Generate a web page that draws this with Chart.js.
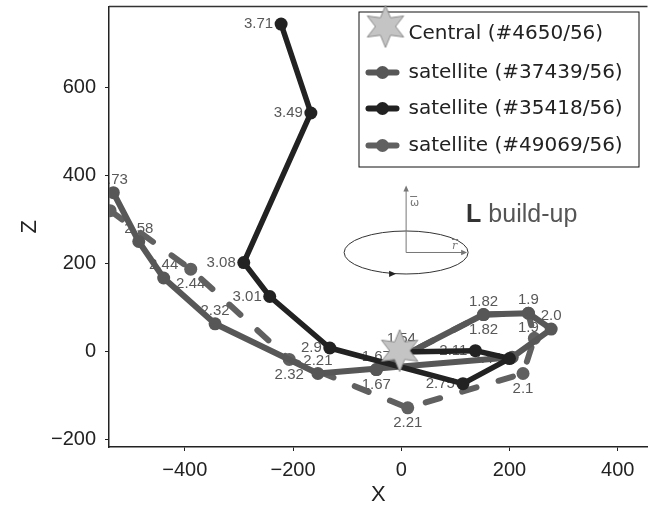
<!DOCTYPE html>
<html>
<head>
<meta charset="utf-8">
<script src="https://cdn.jsdelivr.net/npm/chart.js@4.4.1/dist/chart.umd.min.js"></script>
<style>
  html, body { margin: 0; padding: 0; background: #fff; }
</style>
</head>
<body>
<canvas id="orbitChart" width="654" height="511"></canvas>
<script>
// positions in the X-Z plane, with the redshift written next to each point
const centralX = [-3];
const centralY = [3];

const sat37439X = [-532, -485, -439, -344, -154, 205, 277, 235, 152, -46, 0];
const sat37439Y = [362, 251, 168, 64, -49, -12, 52, 88, 85, -40, 0];
const sat37439Z = ['2.73', '2.58', '2.44', '2.32', '2.21', '', '2.0', '1.9', '1.82', '1.67', '1.54'];

const sat35418X = [-222, -167, -291, -243, -132, 114, 200, 137, 0];
const sat35418Y = [745, 543, 203, 126, 9, -72, -15, 3, 0];
const sat35418Z = ['3.71', '3.49', '3.08', '3.01', '2.9', '2.75', '2.44', '2.11', ''];

const sat49069X = [-538, -389, -207, 12, 225, 246, 235, 152, -46];
const sat49069Y = [321, 188, -17, -127, -49, 31, 88, 85, -40];
const sat49069Z = ['', '2.44', '2.32', '2.21', '2.1', '', '1.9', '1.82', '1.67'];

const xTicks = [-400, -200, 0, 200, 400];
const yTicks = [-200, 0, 200, 400, 600];

const insetAt = { x: 9, y: 226 };

const pts = (xs, ys) => xs.map((v, i) => ({ x: v, y: ys[i] }));
const minus = v => String(v).replace('-', '\u2212');

function makeStar(r) {
    const s = Math.ceil(r * 2 + 4);
    const c = document.createElement('canvas');
    c.width = s; c.height = s;
    const g = c.getContext('2d');
    g.translate(s / 2, s / 2);
    g.beginPath();
    for (let i = 0; i < 12; i++) {
        const rad = i % 2 ? r * 0.48 : r;
        const a = -Math.PI / 2 + i * Math.PI / 6;
        if (i === 0) g.moveTo(rad * Math.cos(a), rad * Math.sin(a));
        else g.lineTo(rad * Math.cos(a), rad * Math.sin(a));
    }
    g.closePath();
    g.fillStyle = '#c4c4c4';
    g.fill();
    g.strokeStyle = '#8a8a8a';
    g.lineWidth = 1;
    g.stroke();
    return c;
}
const starImg = makeStar(21);

// redshift labels, under the lines like in the original
const pointLabels = {
    id: 'pointLabels',
    beforeDatasetsDraw(chart) {
        const { ctx, chartArea: a, scales: { x, y } } = chart;
        ctx.save();
        ctx.beginPath();
        ctx.rect(a.left, a.top, a.right - a.left, a.bottom - a.top);
        ctx.clip();
        ctx.font = '15px "Liberation Sans", Arial, sans-serif';
        ctx.fillStyle = '#585858';
        ctx.textBaseline = 'middle';
        chart.data.datasets.forEach(ds => {
            if (!ds.tags) return;
            ds.data.forEach((p, i) => {
                const t = ds.tags[i];
                if (!t) return;
                const px = x.getPixelForValue(p.x);
                const py = y.getPixelForValue(p.y);
                if (ds.tagPos === 'left') {
                    ctx.textAlign = 'right';
                    ctx.fillText(t, px - 8, py);
                } else if (ds.tagPos === 'above') {
                    ctx.textAlign = 'center';
                    ctx.fillText(t, px, py - 13);
                } else {
                    ctx.textAlign = 'center';
                    ctx.fillText(t, px, py + 15);
                }
            });
        });
        ctx.restore();
    }
};

function arrowHead(ctx, x, y, ang, size) {
    ctx.save();
    ctx.translate(x, y);
    ctx.rotate(ang);
    ctx.beginPath();
    ctx.moveTo(0, 0);
    ctx.lineTo(-size, -size * 0.45);
    ctx.lineTo(-size, size * 0.45);
    ctx.closePath();
    ctx.fill();
    ctx.restore();
}

// small "L build-up" sketch
const lBuildUp = {
    id: 'lBuildUp',
    beforeDatasetsDraw(chart) {
        const { ctx, scales: { x, y } } = chart;
        const cx = x.getPixelForValue(insetAt.x);
        const cy = y.getPixelForValue(insetAt.y);
        ctx.save();
        ctx.strokeStyle = '#333';
        ctx.lineWidth = 1;
        ctx.beginPath();
        ctx.ellipse(cx, cy, 62, 21.5, 0, 0, Math.PI * 2);
        ctx.stroke();
        ctx.fillStyle = '#222';
        arrowHead(ctx, cx - 10, cy + 21.3, 0, 7);

        ctx.strokeStyle = '#777';
        ctx.fillStyle = '#777';
        ctx.beginPath();
        ctx.moveTo(cx, cy);
        ctx.lineTo(cx, cy - 64);
        ctx.moveTo(cx, cy);
        ctx.lineTo(cx + 58, cy);
        ctx.stroke();
        arrowHead(ctx, cx, cy - 67, -Math.PI / 2, 6);
        arrowHead(ctx, cx + 61, cy, 0, 6);

        ctx.font = '11px "DejaVu Sans", sans-serif';
        ctx.textAlign = 'left';
        ctx.textBaseline = 'alphabetic';
        ctx.fillText('\u03c9', cx + 4, cy - 46);
        ctx.font = 'italic 11px "DejaVu Serif", serif';
        ctx.fillText('r', cx + 46, cy - 3);
        ctx.beginPath();
        ctx.moveTo(cx + 4, cy - 56); ctx.lineTo(cx + 11, cy - 56);
        ctx.moveTo(cx + 46, cy - 13); ctx.lineTo(cx + 52, cy - 13);
        ctx.stroke();

        ctx.font = 'bold 25px "Liberation Sans", Arial, sans-serif';
        ctx.fillStyle = '#333';
        ctx.fillText('L', cx + 60, cy - 30);
        const w = ctx.measureText('L').width;
        ctx.font = '25px "Liberation Sans", Arial, sans-serif';
        ctx.fillStyle = '#555';
        ctx.fillText(' build-up', cx + 60 + w, cy - 30);
        ctx.restore();
    }
};

const topSpine = {
    id: 'topSpine',
    afterDraw(chart) {
        const { ctx, chartArea: a } = chart;
        ctx.save();
        ctx.strokeStyle = '#333';
        ctx.lineWidth = 1.5;
        ctx.beginPath();
        ctx.moveTo(a.left, a.top);
        ctx.lineTo(a.right, a.top);
        ctx.stroke();
        ctx.restore();
    }
};

const orbitLegend = {
    id: 'orbitLegend',
    afterDraw(chart) {
        const { ctx, chartArea: a } = chart;
        const x0 = a.right - 289, y0 = a.top + 5;
        const rows = [22, 61, 97, 134];
        ctx.save();
        ctx.fillStyle = '#fff';
        ctx.fillRect(x0, y0, 280, 155);
        ctx.strokeStyle = '#111';
        ctx.lineWidth = 1;
        ctx.strokeRect(x0 + 0.5, y0 + 0.5, 280, 155);
        ctx.font = '20px "DejaVu Sans", sans-serif';
        ctx.textBaseline = 'middle';
        ctx.textAlign = 'left';
        chart.data.datasets.forEach((ds, i) => {
            const ry = y0 + rows[i];
            if (ds.pointStyle instanceof HTMLCanvasElement) {
                const img = ds.pointStyle;
                ctx.drawImage(img, x0 + 27 - img.width / 2, y0 + 15 - img.height / 2);
            } else {
                ctx.strokeStyle = ds.borderColor;
                ctx.fillStyle = ds.borderColor;
                ctx.lineWidth = 6;
                ctx.lineCap = 'round';
                ctx.beginPath();
                ctx.moveTo(x0 + 10, ry);
                ctx.lineTo(x0 + 38, ry);
                ctx.stroke();
                ctx.beginPath();
                ctx.arc(x0 + 24, ry, 6.5, 0, Math.PI * 2);
                ctx.fill();
            }
            ctx.fillStyle = '#222';
            ctx.fillText(ds.label, x0 + 50, ry);
        });
        ctx.restore();
    }
};

(() => {
    'use strict'
    const chart = document.querySelector('#orbitChart') ?? '';
    if (chart == '') return false;

    const tickFont = { family: '"Liberation Sans", Arial, sans-serif', size: 20 };
    const titleFont = { family: '"Liberation Sans", Arial, sans-serif', size: 22 };

    new Chart(chart, {
        type: 'scatter',
        data: {
            datasets: [{
                label: 'Central (#4650/56)',
                data: pts(centralX, centralY),
                pointStyle: starImg,
                showLine: false,
                order: 0
            }, {
                label: 'satellite (#37439/56)',
                data: pts(sat37439X, sat37439Y),
                tags: sat37439Z,
                tagPos: 'above',
                showLine: true,
                borderColor: '#575757',
                backgroundColor: '#575757',
                borderWidth: 6,
                borderJoinStyle: 'round',
                pointRadius: 6.5,
                pointBorderWidth: 0,
                order: 2
            }, {
                label: 'satellite (#35418/56)',
                data: pts(sat35418X, sat35418Y),
                tags: sat35418Z,
                tagPos: 'left',
                showLine: true,
                borderColor: '#222',
                backgroundColor: '#222',
                borderWidth: 5.5,
                borderJoinStyle: 'round',
                pointRadius: 6.5,
                pointBorderWidth: 0,
                order: 1
            }, {
                label: 'satellite (#49069/56)',
                data: pts(sat49069X, sat49069Y),
                tags: sat49069Z,
                tagPos: 'below',
                showLine: true,
                borderColor: '#606060',
                backgroundColor: '#606060',
                borderWidth: 6,
                borderDash: [15, 23],
                borderCapStyle: 'round',
                borderJoinStyle: 'round',
                pointRadius: 6.5,
                pointBorderWidth: 0,
                order: 3
            }]
        },
        options: {
            responsive: false,
            animation: false,
            events: [],
            clip: 0,
            layout: { padding: { top: 5, right: 0, bottom: 0, left: 0 } },
            plugins: {
                legend: { display: false },
                tooltip: { enabled: false }
            },
            scales: {
                x: {
                    type: 'linear',
                    min: -540,
                    max: 455,
                    afterFit: s => { s.height = 64; s.paddingLeft = 0; s.paddingRight = 0; },
                    afterBuildTicks: s => { s.ticks = xTicks.map(v => ({ value: v })); },
                    ticks: { font: tickFont, color: '#222', padding: 7, callback: minus, maxRotation: 0 },
                    grid: { drawOnChartArea: false, drawTicks: true, tickLength: 4, tickColor: '#222' },
                    border: { display: true, color: '#222', width: 1.5 },
                    title: { display: true, text: 'X', font: titleFont, color: '#222', padding: { top: 0, bottom: 3 } }
                },
                y: {
                    type: 'linear',
                    min: -216,
                    max: 785,
                    afterFit: s => { s.width = 109; s.paddingTop = 0; s.paddingBottom = 0; },
                    afterBuildTicks: s => { s.ticks = yTicks.map(v => ({ value: v })); },
                    ticks: { font: tickFont, color: '#222', padding: 9, callback: minus },
                    grid: { drawOnChartArea: false, drawTicks: true, tickLength: 4, tickColor: '#222' },
                    border: { display: true, color: '#222', width: 1.5 },
                    title: { display: true, text: 'Z', font: titleFont, color: '#222', padding: { top: 17, bottom: 0 } }
                }
            }
        },
        plugins: [pointLabels, lBuildUp, topSpine, orbitLegend]
    });
})();
</script>
</body>
</html>
